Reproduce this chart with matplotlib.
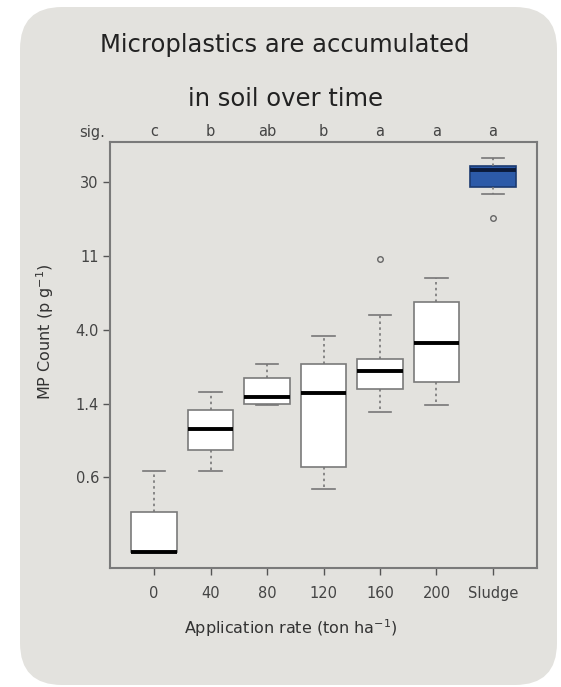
import numpy as np
import matplotlib
matplotlib.use("Agg")
import matplotlib.pyplot as plt
from matplotlib.patches import FancyBboxPatch

# ---- data (MP count, p g^-1) ----
groups = ["0", "40", "80", "120", "160", "200", "Sludge"]
sig_letters = ["c", "b", "ab", "b", "a", "a", "a"]
whislo = [0.255, 0.65, 1.377, 0.524, 1.275, 1.377, 25.5]
q1 = [0.255, 0.826, 1.40, 0.673, 1.727, 1.898, 27.97]
med = [0.255, 1.050, 1.539, 1.622, 2.222, 3.31, 34.9]
q3 = [0.406, 1.303, 2.022, 2.442, 2.628, 5.82, 37.0]
whishi = [0.650, 1.656, 2.442, 3.64, 4.85, 8.12, 41.4]
outliers = [[], [], [], [], [10.46], [], [18.2]]
tick_vals = [0.6, 1.4, 4.0, 11, 30]
tick_labels = ["0.6", "1.4", "4.0", "11", "30"]

# ---- custom scale: equally spaced labelled ticks, log-interpolated ----
Lt = np.log(np.array(tick_vals))
pos = np.arange(len(tick_vals), dtype=float)


def fwd(v):
    v = np.asarray(v, dtype=float)
    lv = np.log(np.clip(v, 1e-9, None))
    out = np.interp(lv, Lt, pos)
    s0 = 1.0 / (Lt[1] - Lt[0])
    s1 = 1.0 / (Lt[-1] - Lt[-2])
    out = np.where(lv < Lt[0], (lv - Lt[0]) * s0, out)
    out = np.where(lv > Lt[-1], pos[-1] + (lv - Lt[-1]) * s1, out)
    return out


def inv(p):
    p = np.asarray(p, dtype=float)
    lv = np.interp(p, pos, Lt)
    lv = np.where(p < 0, Lt[0] + p * (Lt[1] - Lt[0]), lv)
    lv = np.where(p > pos[-1], Lt[-1] + (p - pos[-1]) * (Lt[-1] - Lt[-2]), lv)
    return np.exp(lv)


W, H = 561, 687
fig = plt.figure(figsize=(W / 100, H / 100), dpi=100)
fig.patch.set_facecolor("white")
bg = "#e3e2de"
fig.patches.append(FancyBboxPatch((20 / W, 2 / H), (557 - 20) / W, (680 - 2) / H,
                                  boxstyle="round,pad=0,rounding_size=0.075",
                                  transform=fig.transFigure, facecolor=bg,
                                  edgecolor="none", zorder=-5,
                                  mutation_aspect=W / H))

ax = fig.add_axes([110 / W, 1 - 568 / H, (537 - 110) / W, (568 - 142) / H])
ax.set_zorder(2)
ax.set_facecolor(bg)
ax.set_yscale("function", functions=(fwd, inv))

stats = []
for i in range(len(groups)):
    stats.append(dict(med=med[i], q1=q1[i], q3=q3[i], whislo=whislo[i],
                      whishi=whishi[i], fliers=outliers[i], label=groups[i]))

x = np.arange(1, len(groups) + 1)
edge = "#7a7a7a"
bp = ax.bxp(stats, positions=x, widths=0.8, capwidths=0.4, patch_artist=True,
            showfliers=True,
            boxprops=dict(edgecolor=edge, linewidth=1.2),
            medianprops=dict(color="black", linewidth=2.8, solid_capstyle="butt"),
            whiskerprops=dict(color="#777777", linestyle=(0, (1.5, 2)), linewidth=1.2),
            capprops=dict(color="#777777", linewidth=1.2),
            flierprops=dict(marker="o", markersize=4, markerfacecolor="none",
                            markeredgecolor="#666666", markeredgewidth=1))
for i, b in enumerate(bp["boxes"]):
    b.set_facecolor("#2c5aa8" if groups[i] == "Sludge" else "white")
bp["boxes"][-1].set_edgecolor("#1c3a70")
bp["medians"][-1].set_color("#0b1a3a")

# limits: R style 4% padding in transformed space
allv = np.array(whislo + whishi + [o for ol in outliers for o in ol])
tp = fwd(allv)
lo, hi = tp.min(), tp.max()
pad = 0.04 * (hi - lo)
ax.set_ylim(float(inv(lo - pad)), float(inv(hi + pad)))
ax.set_xlim(0.5 - 0.28, 7.5 + 0.28)

fs_tick = 10.5
ax.set_yticks(tick_vals)
ax.set_yticklabels(tick_labels)
ax.yaxis.set_minor_locator(matplotlib.ticker.NullLocator())
ax.set_xticks(x)
ax.set_xticklabels(groups)
ax.tick_params(axis="both", colors="#555555", labelcolor="#444444",
               labelsize=fs_tick, length=5, width=1)
ax.tick_params(axis="y", pad=3)
ax.tick_params(axis="x", pad=8)
for s in ax.spines.values():
    s.set_color("#7a7a7a")
    s.set_linewidth(1.5)

# significance letters
for xi, lab in zip(x, sig_letters):
    ax.text(xi, 1 + 10 / 426, lab, transform=ax.get_xaxis_transform(), ha="center",
            va="center", fontsize=fs_tick, color="#444444")
fig.text(92 / W, 1 - 132 / H, "sig.", ha="center", va="center", fontsize=fs_tick,
         color="#444444")

fig.text(285 / W, 1 - 45 / H, "Microplastics are accumulated", ha="center",
         va="center", fontsize=17.5, color="#222222")
fig.text(285 / W, 1 - 99 / H, "in soil over time", ha="center",
         va="center", fontsize=17.5, color="#222222")

fig.text(291 / W, 1 - 628 / H, "Application rate (ton ha$^{-1}$)", ha="center",
         va="center", fontsize=11.5, color="#333333")
fig.text(45 / W, 1 - 332 / H, "MP Count (p g$^{-1}$)", ha="center",
         va="center", fontsize=11.5, color="#333333", rotation=90)

fig.savefig("out.png", dpi=100, facecolor="white")
